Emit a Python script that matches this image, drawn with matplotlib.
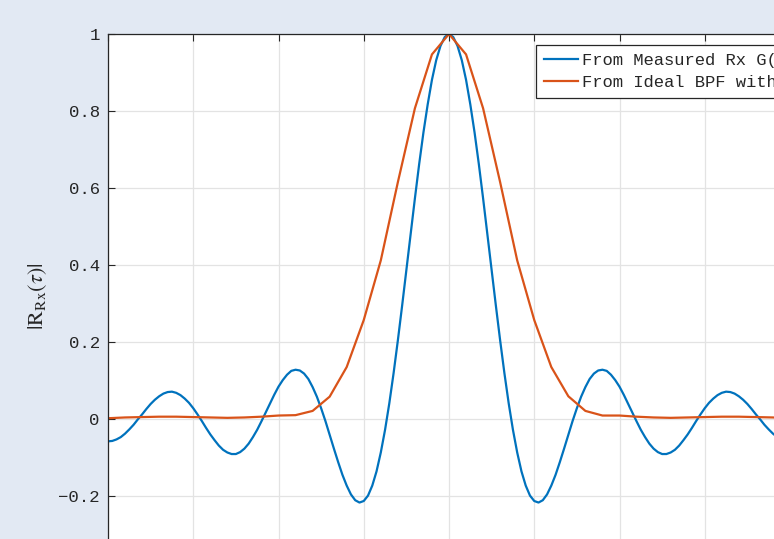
import numpy as np
import matplotlib
matplotlib.use("Agg")
import matplotlib.pyplot as plt

# delay axis (grid units)
tau_meas = np.round(np.arange(-80, 81) * 0.05, 2)
r_meas = [
    -0.058, -0.057, -0.053, -0.047, -0.038, -0.027, -0.015, -0.001, 0.012, 0.026,
    0.039, 0.050, 0.059, 0.066, 0.070, 0.071, 0.068, 0.062, 0.053, 0.042,
    0.028, 0.012, -0.005, -0.023, -0.040, -0.055, -0.069, -0.080, -0.087, -0.091,
    -0.091, -0.086, -0.077, -0.064, -0.047, -0.028, -0.006, 0.017, 0.040, 0.063,
    0.084, 0.101, 0.115, 0.125, 0.128, 0.126, 0.118, 0.104, 0.083, 0.058,
    0.028, -0.005, -0.041, -0.077, -0.112, -0.145, -0.173, -0.196, -0.211, -0.217,
    -0.213, -0.199, -0.173, -0.136, -0.087, -0.028, 0.041, 0.119, 0.204, 0.294,
    0.387, 0.481, 0.573, 0.662, 0.744, 0.817, 0.881, 0.932, 0.969, 0.992,
    1.000,
    0.992, 0.969, 0.932, 0.881, 0.817, 0.744, 0.662, 0.573, 0.481, 0.387,
    0.294, 0.204, 0.119, 0.041, -0.028, -0.087, -0.136, -0.173, -0.199, -0.213,
    -0.217, -0.211, -0.196, -0.173, -0.145, -0.112, -0.077, -0.041, -0.005, 0.028,
    0.058, 0.083, 0.104, 0.118, 0.126, 0.128, 0.125, 0.115, 0.101, 0.084,
    0.063, 0.040, 0.017, -0.006, -0.028, -0.047, -0.064, -0.077, -0.086, -0.091,
    -0.091, -0.087, -0.080, -0.069, -0.055, -0.040, -0.023, -0.005, 0.012, 0.028,
    0.042, 0.053, 0.062, 0.068, 0.071, 0.070, 0.066, 0.059, 0.050, 0.039,
    0.026, 0.012, -0.001, -0.015, -0.027, -0.038, -0.047, -0.053, -0.057, -0.058,
]

tau_ideal = np.round(np.arange(-20, 21) * 0.2, 1)
r_ideal = [
    0.002, 0.004, 0.005, 0.006, 0.006, 0.005, 0.004, 0.003, 0.004, 0.006,
    0.009, 0.010, 0.021, 0.058, 0.135, 0.257, 0.412, 0.615, 0.807, 0.947,
    1.000,
    0.947, 0.807, 0.615, 0.412, 0.257, 0.135, 0.059, 0.021, 0.009, 0.009,
    0.006, 0.004, 0.003, 0.004, 0.005, 0.006, 0.006, 0.005, 0.004, 0.002,
]

labels = ["From Measured Rx G(f)", "From Ideal BPF with B = 2 MHz"]
yticks = [-0.2, 0, 0.2, 0.4, 0.6, 0.8, 1]
ytick_labels = ["\u22120.2", "0", "0.2", "0.4", "0.6", "0.8", "1"]
xticks = [-4, -3, -2, -1, 0, 1, 2, 3, 4]

W, H = 774, 539
dark = "#262626"
fig = plt.figure(figsize=(W / 100, H / 100), dpi=100, facecolor="#e2e9f3")
# axes runs past the right and bottom edges of the picture
ax = fig.add_axes([108 / W, 1 - 573 / H, 682 / W, 539 / H])
ax.set_facecolor("white")

ax.plot(tau_meas, r_meas, color="#0072BD", lw=1.6, label=labels[0])
ax.plot(tau_ideal, r_ideal, color="#D95319", lw=1.6, label=labels[1])

ax.set_xlim(-4, 4)
ax.set_ylim(-0.4, 1)
ax.set_xticks(xticks)
ax.set_yticks(yticks)
ax.set_yticklabels(ytick_labels)
ax.grid(True, color="#e3e3e3", lw=0.9)
ax.set_axisbelow(True)
# x tick labels sit below the cropped bottom edge
ax.tick_params(direction="in", length=5, width=0.8, color=dark, labelcolor=dark,
               top=True, right=True, pad=6, labelbottom=False)
for lab in ax.get_yticklabels():
    lab.set_family("Liberation Mono")
    lab.set_fontsize(12.5)
for s in ax.spines.values():
    s.set_color(dark)
    s.set_linewidth(0.9)

fig.text(38 / W, 1 - 296 / H, r"$|\mathrm{R}_{\mathrm{Rx}}(\tau)|$", rotation=90,
         ha="center", va="center", fontsize=16, color=dark,
         math_fontfamily="stix")

leg = ax.legend(loc="upper left", bbox_to_anchor=(536 / W, 1 - 45 / H),
                bbox_transform=fig.transFigure, borderaxespad=0,
                prop={"family": "Liberation Mono", "size": 12.3},
                fancybox=False, framealpha=1, edgecolor=dark,
                handlelength=2.0, handletextpad=0.25, borderpad=0.45,
                labelspacing=0.45)
leg.get_frame().set_linewidth(0.9)
for t in leg.get_texts():
    t.set_color(dark)

fig.savefig("out.png", dpi=100, facecolor=fig.get_facecolor())
